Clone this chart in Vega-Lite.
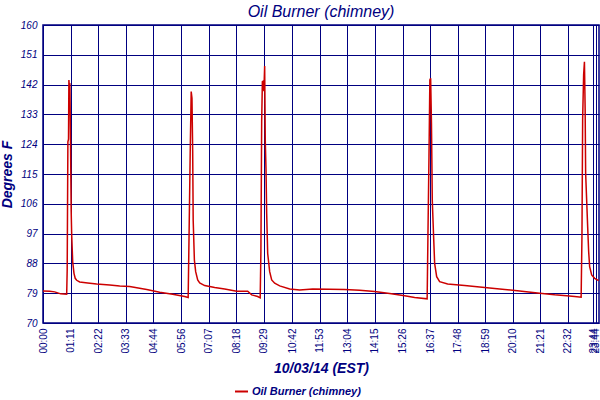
{
  "$schema": "https://vega.github.io/schema/vega-lite/v6.json",
  "width": 556,
  "height": 298,
  "autosize": {"type": "none"},
  "padding": {"left": 43, "top": 25, "right": 1, "bottom": 77},
  "background": "white",
  "title": {
    "text": "Oil Burner (chimney)",
    "font": "Liberation Sans",
    "fontSize": 16,
    "fontStyle": "italic",
    "fontWeight": "normal",
    "color": "#000080",
    "anchor": "middle",
    "offset": 0
  },
  "data": {
    "values": [
      {"t": 0, "degF": 79.7, "series": "Oil Burner (chimney)"},
      {"t": 17.3, "degF": 79.6, "series": "Oil Burner (chimney)"},
      {"t": 30.1, "degF": 79.4, "series": "Oil Burner (chimney)"},
      {"t": 45.6, "degF": 78.8, "series": "Oil Burner (chimney)"},
      {"t": 61.0, "degF": 78.7, "series": "Oil Burner (chimney)"},
      {"t": 62.3, "degF": 86.0, "series": "Oil Burner (chimney)"},
      {"t": 64.1, "degF": 124.7, "series": "Oil Burner (chimney)"},
      {"t": 65.7, "degF": 125.5, "series": "Oil Burner (chimney)"},
      {"t": 66.7, "degF": 143.4, "series": "Oil Burner (chimney)"},
      {"t": 67.7, "degF": 141.8, "series": "Oil Burner (chimney)"},
      {"t": 69.3, "degF": 142.0, "series": "Oil Burner (chimney)"},
      {"t": 70.8, "degF": 125.9, "series": "Oil Burner (chimney)"},
      {"t": 72.6, "degF": 103.6, "series": "Oil Burner (chimney)"},
      {"t": 73.9, "degF": 96.6, "series": "Oil Burner (chimney)"},
      {"t": 76.5, "degF": 88.5, "series": "Oil Burner (chimney)"},
      {"t": 79.8, "degF": 85.0, "series": "Oil Burner (chimney)"},
      {"t": 82.9, "degF": 83.5, "series": "Oil Burner (chimney)"},
      {"t": 86.8, "degF": 82.9, "series": "Oil Burner (chimney)"},
      {"t": 94.5, "degF": 82.4, "series": "Oil Burner (chimney)"},
      {"t": 115.1, "degF": 82.1, "series": "Oil Burner (chimney)"},
      {"t": 138.3, "degF": 81.8, "series": "Oil Burner (chimney)"},
      {"t": 171.8, "degF": 81.5, "series": "Oil Burner (chimney)"},
      {"t": 197.5, "degF": 81.2, "series": "Oil Burner (chimney)"},
      {"t": 223.3, "degF": 81.0, "series": "Oil Burner (chimney)"},
      {"t": 267.1, "degF": 80.1, "series": "Oil Burner (chimney)"},
      {"t": 300.5, "degF": 79.3, "series": "Oil Burner (chimney)"},
      {"t": 334.0, "degF": 78.7, "series": "Oil Burner (chimney)"},
      {"t": 364.9, "degF": 78.0, "series": "Oil Burner (chimney)"},
      {"t": 373.9, "degF": 77.7, "series": "Oil Burner (chimney)"},
      {"t": 376.0, "degF": 95.1, "series": "Oil Burner (chimney)"},
      {"t": 379.1, "degF": 121.2, "series": "Oil Burner (chimney)"},
      {"t": 381.7, "degF": 139.9, "series": "Oil Burner (chimney)"},
      {"t": 383.7, "degF": 137.9, "series": "Oil Burner (chimney)"},
      {"t": 385.5, "degF": 122.2, "series": "Oil Burner (chimney)"},
      {"t": 386.8, "degF": 101.1, "series": "Oil Burner (chimney)"},
      {"t": 389.9, "degF": 89.0, "series": "Oil Burner (chimney)"},
      {"t": 393.2, "degF": 85.5, "series": "Oil Burner (chimney)"},
      {"t": 398.4, "degF": 83.0, "series": "Oil Burner (chimney)"},
      {"t": 403.6, "degF": 82.1, "series": "Oil Burner (chimney)"},
      {"t": 416.4, "degF": 81.3, "series": "Oil Burner (chimney)"},
      {"t": 442.2, "degF": 80.7, "series": "Oil Burner (chimney)"},
      {"t": 467.9, "degF": 80.3, "series": "Oil Burner (chimney)"},
      {"t": 498.8, "degF": 79.6, "series": "Oil Burner (chimney)"},
      {"t": 527.2, "degF": 79.6, "series": "Oil Burner (chimney)"},
      {"t": 537.5, "degF": 78.5, "series": "Oil Burner (chimney)"},
      {"t": 552.9, "degF": 78.0, "series": "Oil Burner (chimney)"},
      {"t": 559.4, "degF": 77.6, "series": "Oil Burner (chimney)"},
      {"t": 561.2, "degF": 91.5, "series": "Oil Burner (chimney)"},
      {"t": 563.2, "degF": 130.8, "series": "Oil Burner (chimney)"},
      {"t": 565.0, "degF": 142.9, "series": "Oil Burner (chimney)"},
      {"t": 566.6, "degF": 143.0, "series": "Oil Burner (chimney)"},
      {"t": 568.9, "degF": 140.0, "series": "Oil Burner (chimney)"},
      {"t": 570.9, "degF": 147.6, "series": "Oil Burner (chimney)"},
      {"t": 572.5, "degF": 125.0, "series": "Oil Burner (chimney)"},
      {"t": 574.3, "degF": 116.7, "series": "Oil Burner (chimney)"},
      {"t": 576.1, "degF": 103.1, "series": "Oil Burner (chimney)"},
      {"t": 578.7, "degF": 91.0, "series": "Oil Burner (chimney)"},
      {"t": 583.8, "degF": 85.5, "series": "Oil Burner (chimney)"},
      {"t": 589.0, "degF": 83.0, "series": "Oil Burner (chimney)"},
      {"t": 596.7, "degF": 82.0, "series": "Oil Burner (chimney)"},
      {"t": 609.6, "degF": 81.2, "series": "Oil Burner (chimney)"},
      {"t": 635.3, "degF": 80.3, "series": "Oil Burner (chimney)"},
      {"t": 661.1, "degF": 80.0, "series": "Oil Burner (chimney)"},
      {"t": 694.6, "degF": 80.3, "series": "Oil Burner (chimney)"},
      {"t": 738.3, "degF": 80.2, "series": "Oil Burner (chimney)"},
      {"t": 777.0, "degF": 80.1, "series": "Oil Burner (chimney)"},
      {"t": 815.6, "degF": 79.9, "series": "Oil Burner (chimney)"},
      {"t": 854.2, "degF": 79.5, "series": "Oil Burner (chimney)"},
      {"t": 892.9, "degF": 78.9, "series": "Oil Burner (chimney)"},
      {"t": 931.5, "degF": 78.2, "series": "Oil Burner (chimney)"},
      {"t": 957.2, "degF": 77.7, "series": "Oil Burner (chimney)"},
      {"t": 989.4, "degF": 77.3, "series": "Oil Burner (chimney)"},
      {"t": 991.5, "degF": 97.1, "series": "Oil Burner (chimney)"},
      {"t": 994.1, "degF": 120.2, "series": "Oil Burner (chimney)"},
      {"t": 996.4, "degF": 143.4, "series": "Oil Burner (chimney)"},
      {"t": 998.4, "degF": 143.9, "series": "Oil Burner (chimney)"},
      {"t": 1000.5, "degF": 130.3, "series": "Oil Burner (chimney)"},
      {"t": 1002.6, "degF": 107.1, "series": "Oil Burner (chimney)"},
      {"t": 1005.7, "degF": 97.1, "series": "Oil Burner (chimney)"},
      {"t": 1008.7, "degF": 88.0, "series": "Oil Burner (chimney)"},
      {"t": 1013.9, "degF": 84.0, "series": "Oil Burner (chimney)"},
      {"t": 1021.6, "degF": 82.5, "series": "Oil Burner (chimney)"},
      {"t": 1042.2, "degF": 81.8, "series": "Oil Burner (chimney)"},
      {"t": 1086.0, "degF": 81.3, "series": "Oil Burner (chimney)"},
      {"t": 1124.6, "degF": 80.9, "series": "Oil Burner (chimney)"},
      {"t": 1176.1, "degF": 80.3, "series": "Oil Burner (chimney)"},
      {"t": 1227.6, "degF": 79.7, "series": "Oil Burner (chimney)"},
      {"t": 1279.2, "degF": 79.0, "series": "Oil Burner (chimney)"},
      {"t": 1317.8, "degF": 78.5, "series": "Oil Burner (chimney)"},
      {"t": 1348.7, "degF": 78.2, "series": "Oil Burner (chimney)"},
      {"t": 1369.3, "degF": 78.0, "series": "Oil Burner (chimney)"},
      {"t": 1386.0, "degF": 77.8, "series": "Oil Burner (chimney)"},
      {"t": 1388.1, "degF": 96.1, "series": "Oil Burner (chimney)"},
      {"t": 1389.9, "degF": 131.8, "series": "Oil Burner (chimney)"},
      {"t": 1392.4, "degF": 144.9, "series": "Oil Burner (chimney)"},
      {"t": 1394.5, "degF": 148.9, "series": "Oil Burner (chimney)"},
      {"t": 1396.3, "degF": 134.8, "series": "Oil Burner (chimney)"},
      {"t": 1397.6, "degF": 115.2, "series": "Oil Burner (chimney)"},
      {"t": 1402.8, "degF": 99.1, "series": "Oil Burner (chimney)"},
      {"t": 1405.4, "degF": 91.5, "series": "Oil Burner (chimney)"},
      {"t": 1407.9, "degF": 87.0, "series": "Oil Burner (chimney)"},
      {"t": 1413.1, "degF": 84.5, "series": "Oil Burner (chimney)"},
      {"t": 1420.8, "degF": 83.5, "series": "Oil Burner (chimney)"},
      {"t": 1431.1, "degF": 82.8, "series": "Oil Burner (chimney)"}
    ]
  },
  "mark": {"type": "line", "strokeWidth": 1.5, "interpolate": "linear"},
  "encoding": {
    "x": {
      "field": "t",
      "type": "quantitative",
      "scale": {"domain": [0, 1432], "nice": false, "zero": false},
      "axis": {
        "title": "10/03/14 (EST)",
        "values": [0, 71, 142, 213, 284, 356, 427, 498, 569, 642, 713, 784, 855, 926, 997, 1068, 1139, 1210, 1281, 1352, 1417, 1423],
        "labelExpr": "datum.value >= 1417 ? '23:44' : utcFormat(datum.value * 60000, '%H:%M')",
        "labelAngle": -90,
        "labelPadding": 5,
        "labelOverlap": false,
        "labelBound": false,
        "labelFlush": false,
        "titlePadding": 8
      }
    },
    "y": {
      "field": "degF",
      "type": "quantitative",
      "scale": {"domain": [70, 160], "nice": false, "zero": false},
      "axis": {
        "title": "Degrees F",
        "values": [70, 79, 88, 97, 106, 115, 124, 133, 142, 151, 160],
        "labelFontStyle": "italic",
        "labelPadding": 6,
        "titlePadding": 6
      }
    },
    "color": {
      "field": "series",
      "type": "nominal",
      "scale": {"range": ["#cc0000"]},
      "legend": {
        "title": null,
        "orient": "none",
        "legendX": 191,
        "legendY": 359,
        "symbolType": "stroke",
        "symbolSize": 169,
        "symbolStrokeWidth": 2,
        "labelFont": "Liberation Sans",
        "labelFontSize": 11,
        "labelFontStyle": "italic",
        "labelFontWeight": "bold",
        "labelColor": "#000080",
        "labelOffset": 3
      }
    }
  },
  "config": {
    "view": {"stroke": "#000080", "strokeWidth": 1.5},
    "axis": {
      "domain": false,
      "ticks": false,
      "grid": true,
      "gridColor": "#000080",
      "gridWidth": 1,
      "gridOpacity": 1,
      "labelFont": "Liberation Sans",
      "labelFontSize": 10,
      "labelColor": "#000080",
      "titleFont": "Liberation Sans",
      "titleFontSize": 14,
      "titleFontStyle": "italic",
      "titleFontWeight": "bold",
      "titleColor": "#000080"
    }
  }
}
